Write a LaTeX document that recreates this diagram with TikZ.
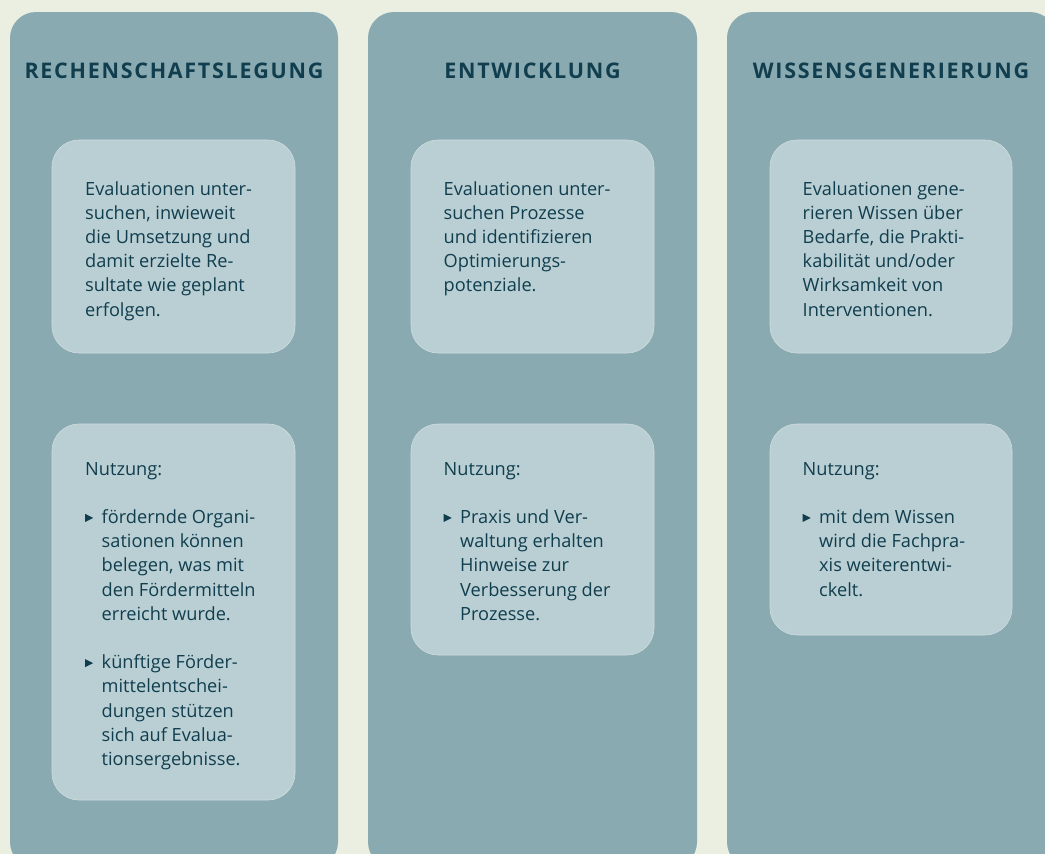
\documentclass[tikz,border=0pt]{standalone}
\usepackage{fontspec}
\setmainfont{Open Sans}
\usetikzlibrary{positioning}

\definecolor{bgcream}{HTML}{EBEFE1}
\definecolor{colteal}{HTML}{8AAAB1}
\definecolor{boxteal}{HTML}{BACFD3}
\definecolor{inkteal}{HTML}{103E4F}

\newcommand\bulletmark{\makebox[16.5pt][l]{\tikz[baseline=0pt]\fill[inkteal] (0pt,1.5pt) -- (0pt,9.5pt) -- (8pt,5.5pt) -- cycle;}}
\newcommand\hang{\hspace*{16.5pt}}

\tikzset{
  column/.style={fill=colteal,rounded corners=26pt},
  card/.style={fill=boxteal,draw=boxteal!70!white,line width=0.6pt,rounded corners=27pt},
  title/.style={anchor=base,inner sep=0pt,text=inkteal,
    font=\fontsize{21.5}{26}\selectfont\bfseries\addfontfeature{LetterSpace=8}},
  % base of a multi-line node = baseline of its last line
  body/.style={anchor=base west,inner sep=0pt,align=left,text=inkteal,
    font=\fontsize{18.2}{24.2}\selectfont}
}

\begin{document}
\begin{tikzpicture}[x=1pt,y=-1pt]
\useasboundingbox (0,0) rectangle (1045,854);
\fill[bgcream] (0,0) rectangle (1045,854);
\clip (0,0) rectangle (1045,854);

% columns
\fill[column] (10,12) rectangle (338,868);
\fill[column] (368,12) rectangle (697,868);
\fill[column] (727,12) rectangle (1056,868);

% cards
\path[card] (52,140) rectangle (295,353);
\path[card] (52,424) rectangle (295,800);
\path[card] (411,140) rectangle (654,353);
\path[card] (411,424) rectangle (654,655);
\path[card] (770,140) rectangle (1012,353);
\path[card] (770,424) rectangle (1012,635);

% titles
\node[title] (rech) at (174,78.3) {RECHENSCHAFTSLEGUNG};
\node[title] (entw) at (532.5,78.3) {ENTWICKLUNG};
\node[title] (wiss) at (891,78.3) {WISSENSGENERIERUNG};

% texts
\node[body] (rechtext) at (85,316) {Evaluationen unter-\\suchen, inwieweit\\die Umsetzung und\\damit erzielte Re-\\sultate wie geplant\\erfolgen.};
\node[body] (rechuse) at (85,765.4) {Nutzung:\\[24.2pt]
  \bulletmark fördernde Organi-\\\hang sationen können\\\hang belegen, was mit\\\hang den Fördermitteln\\\hang erreicht wurde.\\[24.2pt]
  \bulletmark künftige Förder-\\\hang mittelentschei-\\\hang dungen stützen\\\hang sich auf Evalua-\\\hang tionsergebnisse.};

\node[body] (entwtext) at (443.5,291.8) {Evaluationen unter-\\suchen Prozesse\\und identifizieren\\Optimierungs-\\potenziale.};
\node[body] (entwuse) at (443.5,620.2) {Nutzung:\\[24.2pt]
  \bulletmark Praxis und Ver-\\\hang waltung erhalten\\\hang Hinweise zur\\\hang Verbesserung der\\\hang Prozesse.};

\node[body] (wisstext) at (802.5,316) {Evaluationen gene-\\rieren Wissen über\\Bedarfe, die Prakti-\\kabilität und/oder\\Wirksamkeit von\\Interventionen.};
\node[body] (wissuse) at (802.5,596) {Nutzung:\\[24.2pt]
  \bulletmark mit dem Wissen\\\hang wird die Fachpra-\\\hang xis weiterentwi-\\\hang ckelt.};
\end{tikzpicture}
\end{document}
